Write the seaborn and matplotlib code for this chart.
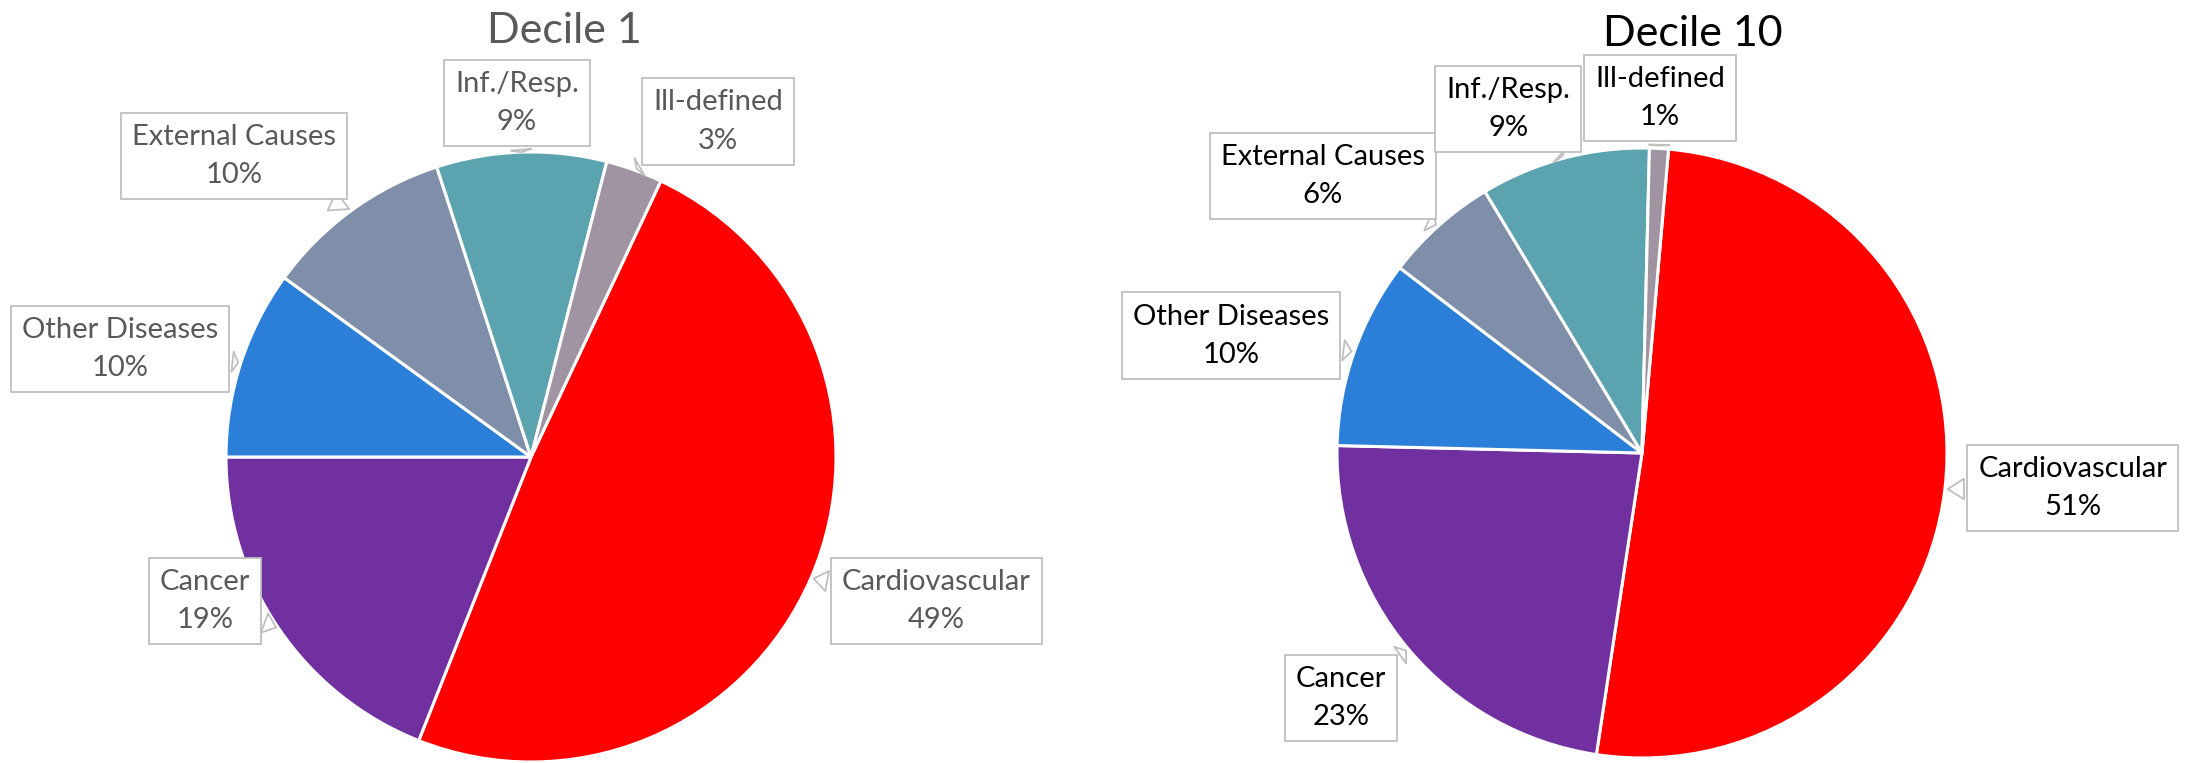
import numpy as np
import matplotlib.pyplot as plt
import seaborn as sns

sns.set_theme(style='white')
plt.rcParams['font.family'] = ['Lato', 'DejaVu Sans']

# --- data ---
causes = ['Cardiovascular', 'Cancer', 'Other Diseases', 'External Causes', 'Inf./Resp.', 'Ill-defined']
decile1 = [49, 19, 10, 10, 9, 3]
decile10 = [51, 23, 10, 6, 9, 1]
titles = ['Decile 1', 'Decile 10']

colors = ['#FF0000', '#7030A0', '#2B7FD8', '#7F8FA9', '#5BA3AF', '#A094A3']

# label box centres, in pie-radius units (layout only)
label_pos_1 = [(1.328, -0.472), (-1.069, -0.472), (-1.348, 0.354),
               (-0.974, 0.987), (-0.046, 1.161), (0.613, 1.10)]
label_pos_10 = [(1.413, -0.115), (-0.987, -0.803), (-1.348, 0.384),
                (-1.046, 0.908), (-0.439, 1.128), (0.059, 1.164)]

W, H = 2186, 763
fig = plt.figure(figsize=(W / 100, H / 100), dpi=100)


def draw_pie(cx, cy, r, values, start, label_pos, text_color, title, title_xy):
    ax = fig.add_axes([(cx - r) / W, (H - cy - r) / H, 2 * r / W, 2 * r / H])
    wedges, _ = ax.pie(values, colors=colors, startangle=start, counterclock=False,
                       wedgeprops=dict(edgecolor='white', linewidth=2.2))
    ax.set_xlim(-1, 1)
    ax.set_ylim(-1, 1)
    ax.axis('off')
    total = sum(values)
    for w, name, v, pos in zip(wedges, causes, values, label_pos):
        mid = np.deg2rad((w.theta1 + w.theta2) / 2)
        tip = (np.cos(mid), np.sin(mid))
        ax.annotate(f'{name}\n{v / total:.0%}', xy=tip, xytext=pos,
                    ha='center', va='center', fontsize=21, color=text_color,
                    linespacing=1.6, annotation_clip=False, zorder=5,
                    bbox=dict(boxstyle='square,pad=0.38', fc='white', ec='#BFBFBF', lw=1.3),
                    arrowprops=dict(arrowstyle='wedge,tail_width=0.7,shrink_factor=0.5',
                                    fc='white', ec='#BFBFBF', lw=1.3))
    fig.text(title_xy[0] / W, 1 - title_xy[1] / H, title, ha='center', va='baseline',
             fontsize=31, color=text_color)


draw_pie(531, 457, 305, decile1, 64.8, label_pos_1, '#595959', titles[0], (564, 43))
draw_pie(1642, 453, 305, decile10, 85, label_pos_10, 'black', titles[1], (1693, 46))

fig.savefig('out.png', dpi=100)
